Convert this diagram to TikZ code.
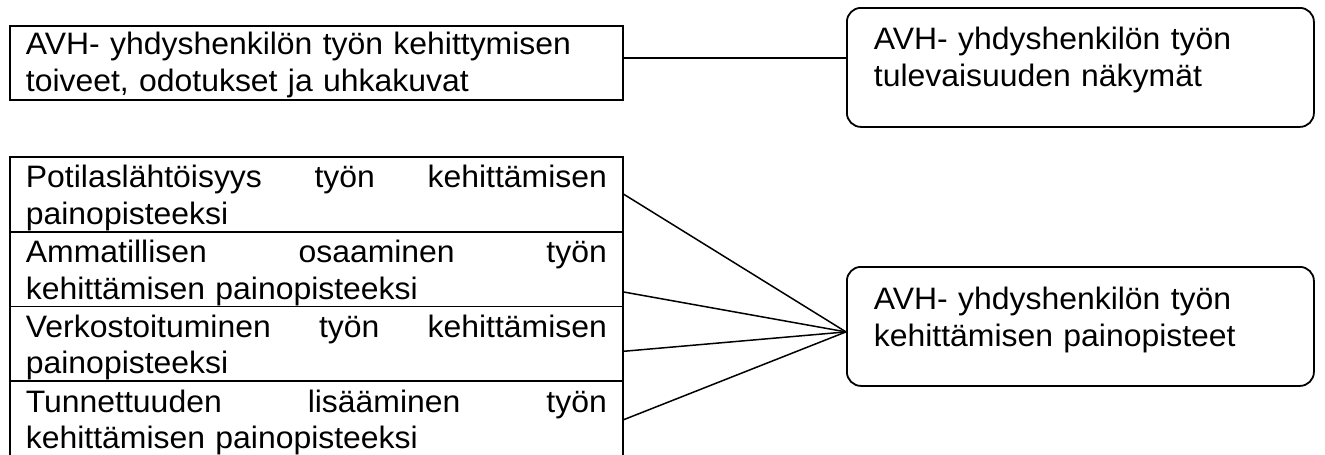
\documentclass[tikz,border=0pt]{standalone}
\usepackage{fontspec}
\setmainfont{Liberation Sans}[FakeStretch=1.03]
\usetikzlibrary{calc}
\begin{document}
\begin{tikzpicture}[x=1pt,y=-1pt,
  base/.style={draw, line width=1.8pt, anchor=north west, inner xsep=16pt, inner ysep=0pt, align=left, font=\fontsize{31}{36.5}\selectfont},
  sqbox/.style={base, minimum width=613pt, text width=581pt},
  rbox/.style={base, rounded corners=14pt, inner xsep=27pt, minimum width=467pt, text width=413pt, text height=42pt, text depth=77pt},
  link/.style={line width=1.5pt}]
\useasboundingbox (0,0) rectangle (1325,455);
\node[sqbox, text height=29pt, text depth=45pt] (A) at (9,25) {AVH- yhdyshenkilön työn kehittymisen\\toiveet, odotukset ja uhkakuvat};
\node[rbox] (B) at (846,7) {AVH- yhdyshenkilön työn\\tulevaisuuden näkymät};
\node[rbox, text height=43pt, text depth=76pt] (C) at (846,266) {AVH- yhdyshenkilön työn\\kehittämisen painopisteet};
\node[sqbox, text height=31pt, text depth=43.75pt] (P1) at (9,156) {Potilaslähtöisyys\hfill työn\hfill kehittämisen\\painopisteeksi};
\node[sqbox, text height=31pt, text depth=43.75pt] (P2) at (9,230.75) {Ammatillisen\hfill osaaminen\hfill työn\\kehittämisen painopisteeksi};
\node[sqbox, text height=31pt, text depth=43.75pt] (P3) at (9,305.5) {Verkostoituminen\hfill työn\hfill kehittämisen\\painopisteeksi};
\node[sqbox, text height=31pt, text depth=46pt] (P4) at (9,380.25) {Tunnettuuden\hfill lisääminen\hfill työn\\kehittämisen painopisteeksi};
\coordinate (ta) at ([yshift=5pt]A.east);
\draw[link] (ta) -- (ta -| B.west);
\coordinate (cin) at ([yshift=-5.5pt]C.west);
\draw[link] (P1.east) -- (cin);
\draw[link] ([yshift=-23pt]P2.east) -- (cin);
\draw[link] ([yshift=-7.5pt]P3.east) -- (cin);
\draw[link] (P4.east) -- (cin);
\end{tikzpicture}
\end{document}
